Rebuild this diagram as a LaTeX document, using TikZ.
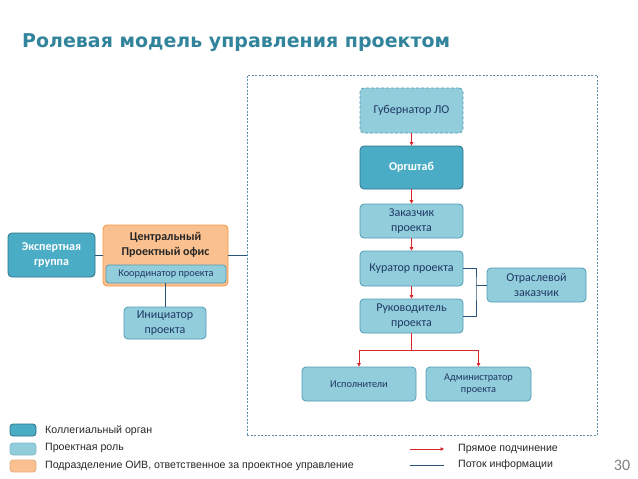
\documentclass[tikz,border=0pt]{standalone}
\usepackage{fontspec}
\setmainfont{Carlito}
\newfontfamily\legfont{Liberation Sans}
\newfontfamily\titlefont{DejaVu Sans}
\usetikzlibrary{arrows.meta}
\definecolor{titlecol}{HTML}{31849B}
\definecolor{lightfill}{HTML}{92CDDC}
\definecolor{lightdraw}{HTML}{4F9DB4}
\definecolor{darkfill}{HTML}{4BACC6}
\definecolor{darkdraw}{HTML}{2B7389}
\definecolor{orfill}{HTML}{FAC090}
\definecolor{ordraw}{HTML}{F79646}
\definecolor{txtnavy}{HTML}{1F3864}
\definecolor{framecol}{HTML}{5B8FA8}
\definecolor{subred}{HTML}{D9262B}
\definecolor{infoblue}{HTML}{2A5478}
\tikzset{
  base/.style={rounded corners=4pt, line width=0.8pt, inner sep=1pt, align=center, font=\fontsize{12}{14.5}\selectfont},
  lbox/.style={base, fill=lightfill, draw=lightdraw, text=txtnavy},
  dbox/.style={base, fill=darkfill, draw=darkdraw, text=white, font=\fontsize{12}{14.5}\selectfont\bfseries},
  obox/.style={base, fill=orfill, draw=ordraw},
  sub/.style={draw=subred, line width=0.8pt, -{Triangle[length=3.5pt,width=3.5pt]}},
  subline/.style={draw=subred, line width=0.8pt},
  info/.style={draw=infoblue, line width=0.8pt},
  legtext/.style={anchor=west, inner sep=0pt, font=\legfont\fontsize{10.6}{12}\selectfont, text=black!85},
  legbox/.style={rounded corners=3pt, line width=0.8pt, minimum width=26pt, minimum height=12pt, inner sep=0pt}
}
\begin{document}
\begin{tikzpicture}[x=1pt, y=-1pt]
\useasboundingbox (0,0) rectangle (638,479);
% title
\node[anchor=base west, inner sep=0pt, text=titlecol, font=\titlefont\fontsize{19}{22}\selectfont\bfseries] (title) at (22,47) {Ролевая модель управления проектом};
% frame
\node[draw=framecol, dashed, dash pattern=on 2pt off 1.5pt, line width=0.7pt, minimum width=350pt, minimum height=360pt, inner sep=0pt] (frame) at (422,255) {};
% right column
\node[lbox, dashed, dash pattern=on 3pt off 2pt, minimum width=103pt, minimum height=45pt] (gub) at (411.5,110.5) {Губернатор ЛО};
\node[dbox, minimum width=103pt, minimum height=43pt] (org) at (411.5,167.5) {Оргштаб};
\node[lbox, minimum width=103pt, minimum height=34pt] (zak) at (411.5,221) {Заказчик\\проекта};
\node[lbox, minimum width=103pt, minimum height=35pt] (kur) at (411.5,268.5) {Куратор проекта};
\node[lbox, minimum width=103pt, minimum height=34pt] (ruk) at (411.5,316) {Руководитель\\проекта};
\node[lbox, minimum width=99pt, minimum height=34pt] (otr) at (536.5,285) {Отраслевой\\заказчик};
\node[lbox, minimum width=114pt, minimum height=34pt, font=\fontsize{10.3}{12.5}\selectfont] (isp) at (359,384) {Исполнители};
\node[lbox, minimum width=105pt, minimum height=34pt, font=\fontsize{10.3}{12.5}\selectfont] (adm) at (478.5,384) {Администратор\\проекта};
% left part
\node[dbox, minimum width=87pt, minimum height=44pt] (eksp) at (51.5,255) {Экспертная\\группа};
\node[obox, minimum width=125pt, minimum height=61pt] (cpo) at (165.5,255.5) {};
\node[inner sep=0pt, align=center, font=\fontsize{12}{14.5}\selectfont\bfseries, text=black!85] (cpotext) at (165.5,245) {Центральный\\Проектный офис};
\node[lbox, rounded corners=3pt, minimum width=120pt, minimum height=18pt, font=\fontsize{10.3}{12}\selectfont] (koord) at (166,274) {Координатор проекта};
\node[lbox, minimum width=82pt, minimum height=32pt] (ini) at (165,323) {Инициатор\\проекта};
% subordination arrows
\draw[sub] (gub) -- (org);
\draw[sub] (org) -- (zak);
\draw[sub] (zak) -- (kur);
\draw[sub] (kur) -- (ruk);
\coordinate (split) at (411.5,350);
\draw[subline] (ruk.south) -- (split);
\draw[sub] (split) -| (isp.north);
\draw[sub] (split) -| (adm.north);
% information lines
\draw[info] (eksp.east) -- (eksp.east -| cpo.west);
\draw[info] (cpo.east |- eksp.east) -- (frame.west |- eksp.east);
\draw[info] (koord.south -| ini.north) -- (ini.north);
\coordinate (jn) at (476,285);
\draw[info] (kur.east) -| (jn) |- (ruk.east);
\draw[info] (jn) -- (otr.west);
% legend
\node[legbox, fill=darkfill, draw=darkdraw] (lg1) at (23,430) {};
\node[legbox, fill=lightfill, draw=lightfill!90!black] (lg2) at (23,449) {};
\node[legbox, fill=orfill, draw=orfill!90!black] (lg3) at (23,466) {};
\node[legtext] (lt1) at (45,431) {Коллегиальный орган};
\node[legtext] (lt2) at (45,448) {Проектная роль};
\node[legtext] (lt3) at (45,466) {Подразделение ОИВ, ответственное за проектное управление};
\coordinate (la1) at (410,449);
\coordinate (la2) at (444,449);
\coordinate (lb1) at (410,465);
\coordinate (lb2) at (444,465);
\draw[sub] (la1) -- (la2);
\draw[info] (lb1) -- (lb2);
\node[legtext] (lt4) at (458,449) {Прямое подчинение};
\node[legtext] (lt5) at (458,465) {Поток информации};
\node[inner sep=0pt, text=black!50, font=\fontsize{16}{18}\selectfont] (pg) at (622,465) {30};
\end{tikzpicture}
\end{document}
